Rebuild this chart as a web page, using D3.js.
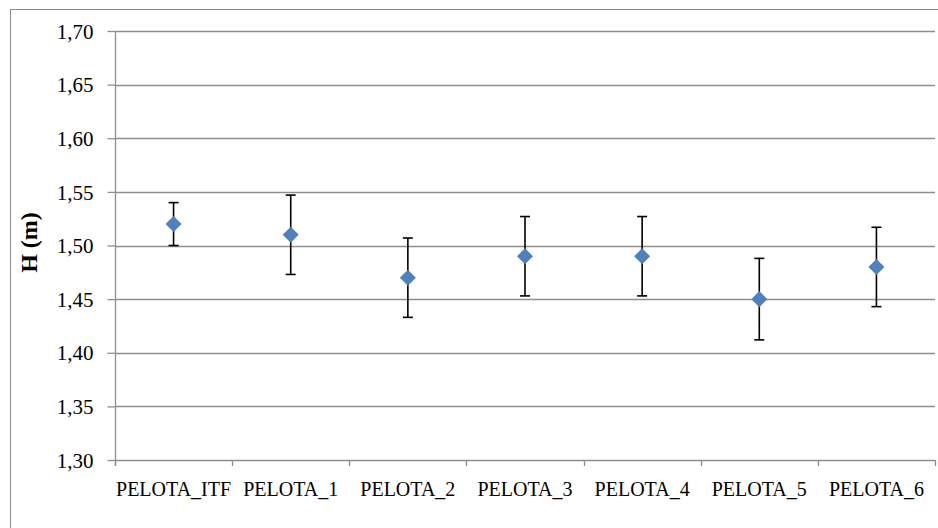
<!DOCTYPE html>
<html>
<head>
<meta charset="utf-8">
<script src="https://cdn.jsdelivr.net/npm/d3@7"></script>
<style>
  html, body { margin: 0; padding: 0; background: #fff; }
  svg { display: block; }
</style>
</head>
<body>
<svg id="chart" width="938" height="528"></svg>
<script>
// Measured heights per ball type, with their deviations
const categories = ["PELOTA_ITF", "PELOTA_1", "PELOTA_2", "PELOTA_3", "PELOTA_4", "PELOTA_5", "PELOTA_6"];
const heights = [1.52, 1.51, 1.47, 1.49, 1.49, 1.45, 1.48];
const errors = [0.020, 0.037, 0.037, 0.037, 0.037, 0.038, 0.037];
const yTicks = [1.30, 1.35, 1.40, 1.45, 1.50, 1.55, 1.60, 1.65, 1.70];
const yTitle = "H (m)";

const svg = d3.select("#chart");
const plotLeft = 115, plotRight = 935, plotTop = 31, plotBottom = 460;
const gridColor = "#8e8e8e";
const font = "'Liberation Serif', 'Times New Roman', serif";

// Outer chart frame
svg.append("rect")
  .attr("x", 10.5).attr("y", 9.5)
  .attr("width", 940).attr("height", 540)
  .attr("fill", "none").attr("stroke", "#8a8a8a").attr("stroke-width", 1);

const x = d3.scaleBand().domain(categories).range([plotLeft, plotRight]).padding(0);
const y = d3.scaleLinear().domain([1.30, 1.70]).range([plotBottom, plotTop]);

const es = d3.formatLocale({ decimal: ",", thousands: ".", grouping: [3], currency: ["", "€"] });
const fmt = es.format(".2f");

// Horizontal gridlines
svg.append("g")
  .selectAll("line")
  .data(yTicks.filter(v => v > 1.30))
  .join("line")
  .attr("x1", plotLeft).attr("x2", plotRight)
  .attr("y1", d => Math.round(y(d)) + 0.5).attr("y2", d => Math.round(y(d)) + 0.5)
  .attr("stroke", gridColor).attr("stroke-width", 1.3);

// Y axis
const yAxis = svg.append("g")
  .attr("transform", `translate(${plotLeft + 0.5},0)`)
  .call(d3.axisLeft(y).tickValues(yTicks).tickFormat(fmt).tickSize(8).tickSizeOuter(0));
yAxis.select(".domain").remove();
yAxis.append("line")
  .attr("x1", 0).attr("x2", 0).attr("y1", plotTop).attr("y2", plotBottom + 6)
  .attr("stroke", gridColor).attr("stroke-width", 1.3);
yAxis.selectAll(".tick line").attr("stroke", gridColor).attr("stroke-width", 1.3);
yAxis.selectAll(".tick text")
  .attr("x", -22)
  .attr("dy", "0.34em")
  .attr("fill", "#000")
  .style("font-family", font)
  .style("font-size", "21px");

// X axis with ticks at category boundaries
const xg = svg.append("g");
xg.append("line")
  .attr("x1", plotLeft).attr("x2", plotRight)
  .attr("y1", plotBottom + 0.5).attr("y2", plotBottom + 0.5)
  .attr("stroke", gridColor).attr("stroke-width", 1.3);
const bounds = categories.map(c => x(c)).concat([x(categories[categories.length - 1]) + x.bandwidth()]);
xg.selectAll("line.b")
  .data(bounds)
  .join("line")
  .attr("class", "b")
  .attr("x1", d => Math.round(d) + 0.5).attr("x2", d => Math.round(d) + 0.5)
  .attr("y1", plotBottom).attr("y2", plotBottom + 6)
  .attr("stroke", gridColor).attr("stroke-width", 1.3);
xg.selectAll("text")
  .data(categories)
  .join("text")
  .attr("x", d => x(d) + x.bandwidth() / 2)
  .attr("y", 496)
  .attr("text-anchor", "middle")
  .attr("fill", "#000")
  .style("font-family", font)
  .style("font-size", "20px")
  .text(d => d);

// Y axis title
svg.append("text")
  .attr("transform", "translate(37,242.5) rotate(-90)")
  .attr("text-anchor", "middle")
  .attr("fill", "#000")
  .style("font-family", font)
  .style("font-size", "24px")
  .style("font-weight", "bold")
  .text(yTitle);

// Error bars
const data = categories.map((c, i) => ({ c, v: heights[i], e: errors[i] }));
const eb = svg.append("g").attr("stroke", "#000").attr("stroke-width", 1.6);
data.forEach(d => {
  const cx = x(d.c) + x.bandwidth() / 2;
  eb.append("line").attr("x1", cx).attr("x2", cx).attr("y1", y(d.v + d.e)).attr("y2", y(d.v - d.e));
  eb.append("line").attr("x1", cx - 5).attr("x2", cx + 5).attr("y1", y(d.v + d.e)).attr("y2", y(d.v + d.e));
  eb.append("line").attr("x1", cx - 5).attr("x2", cx + 5).attr("y1", y(d.v - d.e)).attr("y2", y(d.v - d.e));
});

// Diamond markers
const diamond = d3.symbol().type(d3.symbolSquare).size(128);
svg.append("g")
  .selectAll("path")
  .data(data)
  .join("path")
  .attr("d", diamond)
  .attr("transform", d => `translate(${x(d.c) + x.bandwidth() / 2},${y(d.v)}) rotate(45)`)
  .attr("fill", "#4f81bd");
</script>
</body>
</html>
